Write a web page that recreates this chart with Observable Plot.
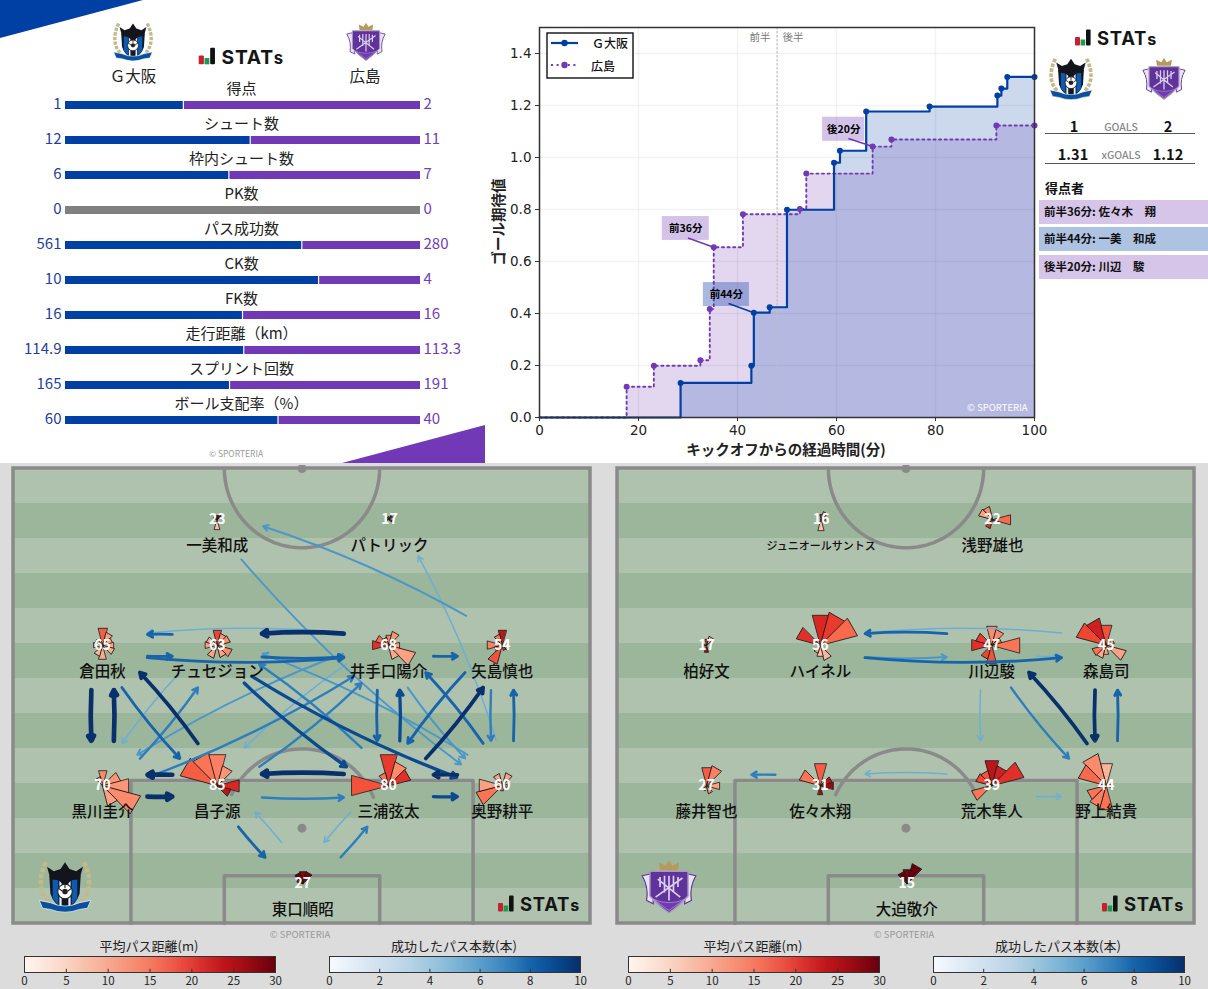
<!DOCTYPE html>
<html lang="ja"><head><meta charset="utf-8">
<script src="https://cdn.jsdelivr.net/npm/d3@7"></script>
<script src="https://cdn.jsdelivr.net/npm/@observablehq/plot@0.6"></script>
<style>
html,body{margin:0;padding:0;background:#fff}
#page{position:relative;width:1208px;height:989px;overflow:hidden;background:#fff;font-family:"Noto Sans CJK JP","Noto Sans",sans-serif;color:#111}
#grey{position:absolute;left:0;top:463px;width:1208px;height:526px;background:#dcdcdc}
#page>svg,#page>div.p{position:absolute}
.t{position:absolute;white-space:nowrap;transform:translate(-50%,-50%);line-height:1}
.tl{position:absolute;white-space:nowrap;transform:translateY(-50%);line-height:1}
</style></head><body><div id="page"><div id="grey"></div></div>
<script>
// ---------- data ----------
const statNames=["得点","シュート数","枠内シュート数","PK数","パス成功数","CK数","FK数","走行距離（km）","スプリント回数","ボール支配率（%）"];
const statHome=[1,12,6,0,561,10,16,114.9,165,60];
const statAway=[2,11,7,0,280,4,16,113.3,191,40];

const xgHomeMin=[28.5,42.8,43.3,46.5,50,59.5,60.7,66,78.8,92.5,93.3,94.5,100];
const xgHomeVal=[0.133,0.199,0.403,0.424,0.799,0.98,1.026,1.177,1.196,1.238,1.265,1.31,1.31];
const xgAwayMin=[17.6,23.1,32.5,34.4,35.2,41.1,52.6,53.9,67.3,71.1,92.3,100];
const xgAwayVal=[0.118,0.199,0.22,0.417,0.655,0.782,0.802,0.938,1.042,1.069,1.123,1.123];
const goalNotes=[
 {label:"前36分",t1:24.8,t2:34.3,v1:0.681,v2:0.773,px:30,py:0.69,qx:35.2,qy:0.655,team:"away"},
 {label:"前44分",t1:33.1,t2:42.4,v1:0.427,v2:0.519,px:38.2,py:0.438,qx:43.3,qy:0.403,team:"home"},
 {label:"後20分",t1:57.2,t2:65.7,v1:1.062,v2:1.155,px:62.4,py:1.073,qx:67.3,qy:1.042,team:"away"}];

// pitch metres: x across (0-68), y up from own goal line (0-52.5)
const gambaPlayers=[
 ["K","倉田秋",10.5,32.1,65],["C","チュセジョン",24,32.1,63],["I","井手口陽介",44.2,32.1,68],["Y","矢島慎也",57.6,32.1,54],
 ["U","黒川圭介",10.5,15.9,70],["S","昌子源",24,15.9,85],["M","三浦弦太",44.2,15.9,80],["O","奥野耕平",57.6,15.9,60],
 ["H","東口順昭",34.1,4.6,27],["A","一美和成",24,46.6,23],["P","パトリック",44.3,46.6,17]];
const hiroPlayers=[
 ["K","柏好文",10.5,32.1,17],["H","ハイネル",23.9,32.1,56],["W","川辺駿",44.1,32.1,47],["M","森島司",57.6,32.1,45],
 ["F","藤井智也",10.5,15.9,27],["S","佐々木翔",23.9,15.9,31],["A","荒木隼人",44.1,15.9,39],["N","野上結貴",57.6,15.9,44],
 ["O","大迫敬介",34.1,4.6,15],["J","ジュニオールサントス",24,46.6,16],["T","浅野雄也",44.2,46.6,22]];
const gambaPasses=[["I","K",5],["C","U",5],["H","S",5],["M","H",5],["O","P",5],["I","S",5],
 ["Y","A",6],["I","O",6],["A","O",6],["I","U",6],["O","C",6],
 ["U","C",7],["S","I",7],["U","I",7],["M","C",7],["S","M",7],["H","M",7],["Y","O",7],
 ["K","C",8],["K","S",8],["C","I",8],["Y","M",8],["O","I",8],["S","H",8],["I","M",8],["K","I",8],["C","K",8],["I","Y",8],["O","Y",8],
 ["C","M",9],["C","O",9],["M","I",9],["M","O",9],
 ["O","M",10],["S","K",10],["M","Y",10],
 ["K","U",12],["U","K",12],["I","C",12],["M","S",12],["S","U",12],["U","S",12]];
const hiroPasses=[["M","H",5],["W","A",5],["A","N",5],["A","S",5],["W","M",5],["H","W",6],["W","N",7],["S","F",7],["W","H",8],["H","M",8],["N","M",8],["M","N",10],["N","W",10]];
const gambaRoses={K:[[0,17,16],[1,13,10],[2,10,9],[3,11,9],[4,12,9],[6,14,9],[7,11,8],[9,9,8],[10,8,9]],
 C:[[0,15,18],[1,12,11],[2,13,12],[4,15,12],[5,12,10],[7,13,10],[9,12,10],[10,11,9]],
 I:[[0,10,12],[1,14,11],[3,11,10],[4,27,10],[5,14,9],[9,16,20],[10,13,15],[11,8,14]],
 Y:[[0,15,24],[11,11,14],[9,15,13],[7,19,17],[4,6,15],[5,5,21],[8,8,15]],
 U:[[0,15,12],[11,9,9],[2,18,11],[3,26,11],[4,38,12],[5,20,10]],
 S:[[10,37,16],[11,33,14],[0,31,13],[1,20,11],[3,22,21],[4,14,24]],
 M:[[9,37,17],[0,31,19],[11,13,14],[1,24,12],[2,22,20]],
 O:[[9,23,10],[8,26,14],[11,12,10],[1,13,10],[3,5,10],[6,5,12]],
 H:[[0,12,28],[11,11,30],[1,12,29],[10,6,26]],
 A:[[0,4,29],[1,5,29],[6,10,7],[10,4,26]],
 P:[[1,4,28],[4,3,28],[9,2,28],[11,3,26]]};
const hiroRoses={K:[[1,9,9],[0,6,20],[6,7,26],[9,4,28]],
 H:[[0,30,21],[1,33,19],[2,37,15],[10,24,20],[5,15,8],[6,11,7],[7,8,10]],
 W:[[0,19,12],[1,16,12],[2,10,15],[3,28,14],[9,20,20],[10,16,19],[7,14,18],[6,18,17]],
 M:[[10,30,18],[11,27,22],[0,20,17],[4,20,10],[7,13,9],[8,14,14],[2,8,10],[6,9,10]],
 F:[[0,18,16],[1,20,13],[3,13,10],[5,8,12],[7,5,14]],
 S:[[0,22,16],[10,21,14],[2,12,24],[3,13,27],[6,9,26]],
 A:[[0,25,24],[1,20,22],[2,32,20],[8,20,14],[10,16,18],[11,15,17]],
 N:[[0,22,8],[11,32,12],[10,28,15],[8,19,14],[7,22,13],[6,24,14],[3,5,10]],
 O:[[0,14,29],[1,20,30],[11,12,30]],
 J:[[1,8,11],[6,11,7],[0,5,24],[3,4,12]],
 T:[[3,18,15],[11,13,12],[10,14,10],[7,9,20],[4,4,22]]};
const stripeIndex=d3.range(13);
const blueTicks=[0,2,4,6,8,10], redTicks=[0,5,10,15,20,25,30];

// ---------- helpers ----------
const BLUE="#003fa3",PURPLE="#7139b5",LINE="#8a8a8a";
const page=document.getElementById("page");
const JP='"Noto Sans CJK JP"';
function put(node,left,top){node.style.position="absolute";node.style.left=left+"px";node.style.top=top+"px";page.appendChild(node);return node;}
function txt(s,x,y,css="",cls="t"){const d=document.createElement("div");d.className=cls;d.textContent=s;d.style.left=x+"px";d.style.top=y+"px";d.style.cssText+=css;page.appendChild(d);return d;}
function box(x,y,w,h,c,clip){const d=document.createElement("div");d.style.cssText=`position:absolute;left:${x}px;top:${y}px;width:${w}px;height:${h}px;background:${c};`+(clip?`clip-path:${clip};`:"");page.appendChild(d);}
function html(s,x,y,w,h){const d=document.createElement("div");d.className="p";d.style.cssText=`left:${x}px;top:${y}px;width:${w}px;height:${h}px`;d.innerHTML=s;page.appendChild(d);}
function gamba(x,y,w,h){html(`<svg width="${w}" height="${h}" viewBox="0 0 100 100"><g fill="none" stroke="#c4b98a" stroke-width="8" stroke-dasharray="8 3"><path d="M16 6C2 34 4 60 20 76"/><path d="M84 6C98 34 96 60 80 76"/></g><path d="M22 30H78L76 62Q70 82 50 90Q30 82 24 62Z" fill="#111827"/><path d="M28 34H38V82L28 70ZM62 34H72V70L62 82Z" fill="#0b5bb5"/><path d="M40 34H44V85H40ZM56 34H60V85H56Z" fill="#e8edf3"/><path d="M18 14L30 22L42 18L50 6L58 18L70 22L82 14L76 36L62 38L50 48L38 38L24 36Z" fill="#14141c"/><circle cx="50" cy="58" r="13" fill="#fff" stroke="#222" stroke-width="2"/><circle cx="50" cy="58" r="5" fill="#222"/><path d="M50 45V52M38 52L45 57M62 52L55 57" stroke="#222" stroke-width="2"/><path d="M4 74L24 78Q50 90 76 78L96 74L90 88L76 90Q50 100 24 90L10 88Z" fill="#0b4fa0" stroke="#fff" stroke-width="1.2"/></svg>`,x-w/2,y-h/2,w,h);}
function sanf(x,y,w,h){html(`<svg width="${w}" height="${h}" viewBox="0 0 100 100"><path d="M50 2L56 12L68 6L66 20H34L32 6L44 12Z" fill="#b59a5c"/><path d="M2 30Q14 50 10 74L22 80L20 26Z" fill="#e9e2f2" stroke="#5d2f96" stroke-width="2"/><path d="M98 30Q86 50 90 74L78 80L80 26Z" fill="#e9e2f2" stroke="#5d2f96" stroke-width="2"/><path d="M16 22H84V66Q68 84 50 96Q32 84 16 66Z" fill="#5f329c" stroke="#a79bb8" stroke-width="2.5"/><g stroke="#dcd0ec" stroke-width="3" fill="none"><path d="M26 68L74 34M30 36L70 68M50 30V74M42 30V60M58 30V60M34 32V50M66 32V50"/></g><path d="M22 72Q50 84 78 72L50 92Z" fill="#7139b5" stroke="#cbb9e2"/></svg>`,x-w/2,y-h/2,w,h);}
function stats(x,y,k=1){
 html(`<svg width="${Math.round(86*k)}" height="${Math.round(24*k)}" viewBox="0 0 86 24"><rect x="0" y="11" width="5" height="8.5" rx="1" fill="#c8202c"/><rect x="5.6" y="13.5" width="4.6" height="6" fill="#1c9a50"/><rect x="11" y="3.5" width="4.6" height="16" rx="1" fill="#111"/><text x="22" y="19" font-family="Inter" font-weight="700" font-size="18.5" letter-spacing="0.7" fill="#151515">STAT<tspan font-size="16">s</tspan></text></svg>`,x,y-12*k,86*k,24*k);}

// ---------- top left: stat bars ----------
box(0,0,143,38,BLUE,"polygon(0 0,100% 0,0 100%)");
box(342,425,143,38,PURPLE,"polygon(100% 0,100% 100%,0 100%)");
const statRows=statNames.map((name,i)=>{const t=statHome[i]+statAway[i];return {name,h:statHome[i],a:statAway[i],share:t?statHome[i]/t:null};});
put(Plot.plot({width:485,height:463,margin:0,style:{background:"transparent",fontFamily:JP,overflow:"visible"},
 x:{domain:[0,1],range:[65,420],axis:null},
 y:{domain:statNames,range:[87.5,437.5],paddingInner:0.78,paddingOuter:0.39,axis:null},
 marks:[
  Plot.barX(statRows.filter(d=>d.share!=null),{y:"name",x1:0,x2:"share",fill:BLUE,insetRight:0.6}),
  Plot.barX(statRows.filter(d=>d.share!=null),{y:"name",x1:"share",x2:1,fill:PURPLE,insetLeft:0.6}),
  Plot.barX(statRows.filter(d=>d.share==null),{y:"name",x1:0,x2:1,fill:"#808080"}),
  Plot.text(statRows,{y:"name",x:0.5,text:"name",dx:-1.5,dy:-16,fontSize:15,fill:"#222"}),
  Plot.text(statRows,{y:"name",x:0,text:d=>String(d.h),textAnchor:"end",dx:-4,dy:-1,fontSize:15,fill:"#1f3f9f"}),
  Plot.text(statRows,{y:"name",x:1,text:d=>String(d.a),textAnchor:"start",dx:3,dy:-1,fontSize:15,fill:"#7040b8"})
 ]}),0,0);
gamba(133,42,42,44);sanf(366,42,40,44);stats(198,57,1.06);
txt("Ｇ大阪",133,76,"font-size:15.5px;color:#222");txt("広島",365,76,"font-size:15.5px;color:#222");
txt("© SPORTERIA",236,453,"font-size:8.5px;color:#999");

// ---------- top middle: xG chart ----------
const seriesOf=(ts,vs)=>[{t:0,v:0}].concat(ts.map((t,i)=>({t,v:vs[i]})));
const xgH=seriesOf(xgHomeMin,xgHomeVal), xgA=seriesOf(xgAwayMin,xgAwayVal);
const xTicks=[0,20,40,60,80,100], yTicks=[0,.2,.4,.6,.8,1,1.2,1.4];
put(Plot.plot({width:580,height:447,marginLeft:59,marginRight:26,marginTop:12,marginBottom:45,
 style:{background:"transparent",fontFamily:"DejaVu Sans",overflow:"visible"},
 x:{domain:[0,100]},y:{domain:[0,1.5]},
 marks:[
  Plot.gridX(xTicks,{stroke:"#000",strokeOpacity:0.05,strokeWidth:1.6}),
  Plot.gridY(yTicks,{stroke:"#000",strokeOpacity:0.05,strokeWidth:1.6}),
  Plot.areaY(xgA,{x:"t",y:"v",curve:"step-after",fill:PURPLE,fillOpacity:0.2}),
  Plot.areaY(xgH,{x:"t",y:"v",curve:"step-after",fill:BLUE,fillOpacity:0.2}),
  Plot.ruleX([48],{stroke:"#bdbdbd",strokeDasharray:"2.5 1.5",strokeWidth:1.2}),
  Plot.text(["前半"],{x:48,y:1.46,text:d=>d,dx:-17,fontSize:10.5,fill:"#777",fontFamily:JP}),
  Plot.text(["後半"],{x:48,y:1.46,text:d=>d,dx:16,fontSize:10.5,fill:"#777",fontFamily:JP}),
  Plot.line(xgA,{x:"t",y:"v",curve:"step-after",stroke:PURPLE,strokeWidth:1.9,strokeDasharray:"2 3.6"}),
  Plot.line(xgH,{x:"t",y:"v",curve:"step-after",stroke:BLUE,strokeWidth:2.2}),
  Plot.dot(xgA.slice(1),{x:"t",y:"v",r:3,fill:PURPLE}),
  Plot.dot(xgH.slice(1),{x:"t",y:"v",r:3,fill:BLUE}),
  Plot.rect(goalNotes,{x1:"t1",x2:"t2",y1:"v1",y2:"v2",fill:d=>d.team==="away"?PURPLE:"#2a4fb0",fillOpacity:d=>d.team==="away"?0.3:0.4}),
  Plot.link(goalNotes,{x1:"px",y1:"py",x2:"qx",y2:"qy",stroke:d=>d.team==="away"?PURPLE:BLUE,strokeWidth:1.6}),
  Plot.text(goalNotes,{x:d=>(d.t1+d.t2)/2,y:d=>(d.v1+d.v2)/2,text:"label",fontSize:10.5,fontWeight:700,fill:"#000",fontFamily:JP}),
  Plot.text(["© SPORTERIA"],{x:92.5,y:0.035,text:d=>d,fill:"#fff",fontSize:9.5,fontFamily:JP}),
  Plot.frame({stroke:"#333",strokeWidth:1.5}),
  Plot.axisX({ticks:xTicks,tickSize:4,fontSize:13.5,tickPadding:4,label:null,stroke:"#333",fill:"#222"}),
  Plot.axisY({ticks:yTicks,tickSize:4,fontSize:13.5,tickPadding:4,tickFormat:".1f",label:null,stroke:"#333",fill:"#222"})
 ]}),480,15);
txt("キックオフからの経過時間(分)",786,449,"font-size:14.5px;font-weight:700;color:#222");
txt("ゴール期待値",498,222,"font-size:14.5px;font-weight:700;color:#222;transform:translate(-50%,-50%) rotate(-90deg)");
html(`<svg width="88" height="47"><rect x="1" y="1" width="86" height="45" fill="#fff" stroke="#111" stroke-width="1.4"/><path d="M5 11H32" stroke="${BLUE}" stroke-width="2.2"/><circle cx="18.5" cy="11" r="3.2" fill="${BLUE}"/><path d="M5 33H32" stroke="${PURPLE}" stroke-width="1.9" stroke-dasharray="2 3.6"/><circle cx="18.5" cy="33" r="3.2" fill="${PURPLE}"/></svg>`,546,32,88,47);
txt("Ｇ大阪",610,43,"font-size:12px;font-weight:500;color:#111");txt("広島",603,66,"font-size:12px;font-weight:500;color:#111");

// ---------- top right: summary ----------
stats(1075,38);gamba(1071,79,46,48);sanf(1164,79,44,48);
txt("1",1074,126,"font-size:14.5px;font-weight:700");txt("GOALS",1121,127,"font-size:10.5px;color:#888;font-weight:500");txt("2",1168,126,"font-size:14.5px;font-weight:700");
txt("1.31",1073,154,"font-size:14.5px;font-weight:700");txt("xGOALS",1121,155,"font-size:10.5px;color:#888;font-weight:500");txt("1.12",1168,154,"font-size:14.5px;font-weight:700");
box(1045,133,150,1,"#555");box(1045,163,150,1,"#555");
txt("得点者",1045,187,"font-size:13px;font-weight:700","tl");
[["前半36分: 佐々木　翔","#d6c5e9",200],["前半44分: 一美　和成","#aec3e1",227],["後半20分: 川辺　駿","#d6c5e9",255]].forEach(r=>{box(1039,r[2],169,24,r[1]);txt(r[0],1044,r[2]+12,"font-size:11.5px;font-weight:700","tl");});

// ---------- pass maps ----------
const blues=d3.scaleSequential(d3.interpolateBlues).domain([0,10]).clamp(true);
const reds=d3.scaleSequential(d3.interpolateReds).domain([0,30]);
const wedge={draw(c,l){const t=Math.tan(15*Math.PI/180);c.moveTo(0,0);c.lineTo(-l*t,-l);c.lineTo(l*t,-l);c.closePath();}};
function arc(cx,cy,a0,a1){return d3.range(a0,a1+.01,3).map(a=>({x:cx+9.15*Math.cos(a*Math.PI/180),y:cy+9.15*Math.sin(a*Math.PI/180)}));}
const PAD=3;
function pitch(players,passes,roses,left){
 const at=Object.fromEntries(players.map(p=>[p[0],{id:p[0],name:p[1],x:p[2],y:p[3],n:p[4]}]));
 const table=passes.map(([f,t,n])=>{const a=at[f],b=at[t],dx=b.x-a.x,dy=b.y-a.y,l=Math.hypot(dx,dy),ox=dy/l*0.82,oy=-dx/l*0.82;
  return {n,x1:a.x+ox,y1:a.y+oy,x2:b.x+ox,y2:b.y+oy};}).sort((p,q)=>p.n-q.n);
 const wedges=players.flatMap(p=>(roses[p[0]]||[]).map(([i,len,dist])=>({x:p[2],y:p[3],i,len,dist})));
 const lineStyle={stroke:LINE,strokeWidth:3.5,fill:"none"};
 put(Plot.plot({width:577+2*PAD,height:455+2*PAD,margin:PAD,style:{background:"transparent",fontFamily:JP},
  x:{domain:[0,68],axis:null},y:{domain:[0,52.5],axis:null},
  length:{domain:[0,40],range:[0,40]},
  marks:[
   Plot.rect(stripeIndex,{x1:0,x2:68,y1:i=>i*52.5/13,y2:i=>(i+1)*52.5/13,fill:i=>i%2?"#9cb69b":"#afc2ad"}),
   Plot.line(arc(34,52.5,180,360),{x:"x",y:"y",...lineStyle}),
   Plot.line(arc(34,11,23,157),{x:"x",y:"y",...lineStyle}),
   Plot.line([[13.84,0],[13.84,16.5],[54.16,16.5],[54.16,0]],{...lineStyle}),
   Plot.line([[24.84,0],[24.84,5.5],[43.16,5.5],[43.16,0]],{...lineStyle}),
   Plot.dot([[34,52.5],[34,11]],{r:4.5,fill:LINE}),
   Plot.rect([0],{x1:0,x2:68,y1:0,y2:52.5,...lineStyle}),
   Plot.vector(wedges,{x:"x",y:"y",rotate:d=>d.i*30,length:"len",anchor:"start",shape:wedge,fill:d=>reds(d.dist),stroke:"#1a1a1a",strokeWidth:0.8,strokeLinejoin:"miter"}),
   Plot.arrow(table,{x1:"x1",y1:"y1",x2:"x2",y2:"y2",bend:-8,insetStart:45,insetEnd:45,stroke:d=>blues(d.n),strokeWidth:d=>(d.n-5)*0.45+1.5,headLength:9}),
   Plot.text(Object.values(at),{x:"x",y:"y",text:"name",dy:26.5,fontSize:d=>d.name.length>8?11:15.5,fontWeight:500,fill:"#111"}),
   Plot.text(Object.values(at),{x:"x",y:"y",text:d=>String(d.n),fontSize:14,fontWeight:700,fill:"#fff"})
  ]}),left-PAD,468-PAD);
}
pitch(gambaPlayers,gambaPasses,gambaRoses,13);
pitch(hiroPlayers,hiroPasses,hiroRoses,617);
gamba(65,887,56,58);sanf(669,887,56,60);stats(498,904);stats(1102,904);
txt("© SPORTERIA",300,935,"font-size:9.5px;color:#999");txt("© SPORTERIA",904,935,"font-size:9.5px;color:#999");

// ---------- colour bars ----------
function bar(scheme,dom,ticks,title,left){
 const step=dom/250;
 put(Plot.plot({width:251+24,height:37,marginLeft:12,marginRight:12,marginTop:1,marginBottom:20,
  style:{background:"transparent",fontFamily:JP,overflow:"visible"},
  x:{domain:[0,dom],axis:null},y:{domain:[0,1],axis:null},color:{scheme,domain:[0,dom]},
  marks:[
   Plot.rect(d3.range(0,dom,step),{x1:d=>d,x2:d=>d+step*1.2,y1:0,y2:1,fill:d=>d}),
   Plot.ruleX(ticks,{y1:0,y2:0.2,stroke:"#333"}),
   Plot.frame({stroke:"#333",strokeWidth:1}),
   Plot.axisX({ticks,tickSize:0,tickPadding:4,fontSize:11.5,fill:"#222"})
  ]}),left-12,955);
 txt(title,left+125,945,"font-size:13px;color:#222");
}
bar("reds",30,redTicks,"平均パス距離(m)",24);
bar("blues",10,blueTicks,"成功したパス本数(本)",329);
bar("reds",30,redTicks,"平均パス距離(m)",628);
bar("blues",10,blueTicks,"成功したパス本数(本)",933);
</script></body></html>
